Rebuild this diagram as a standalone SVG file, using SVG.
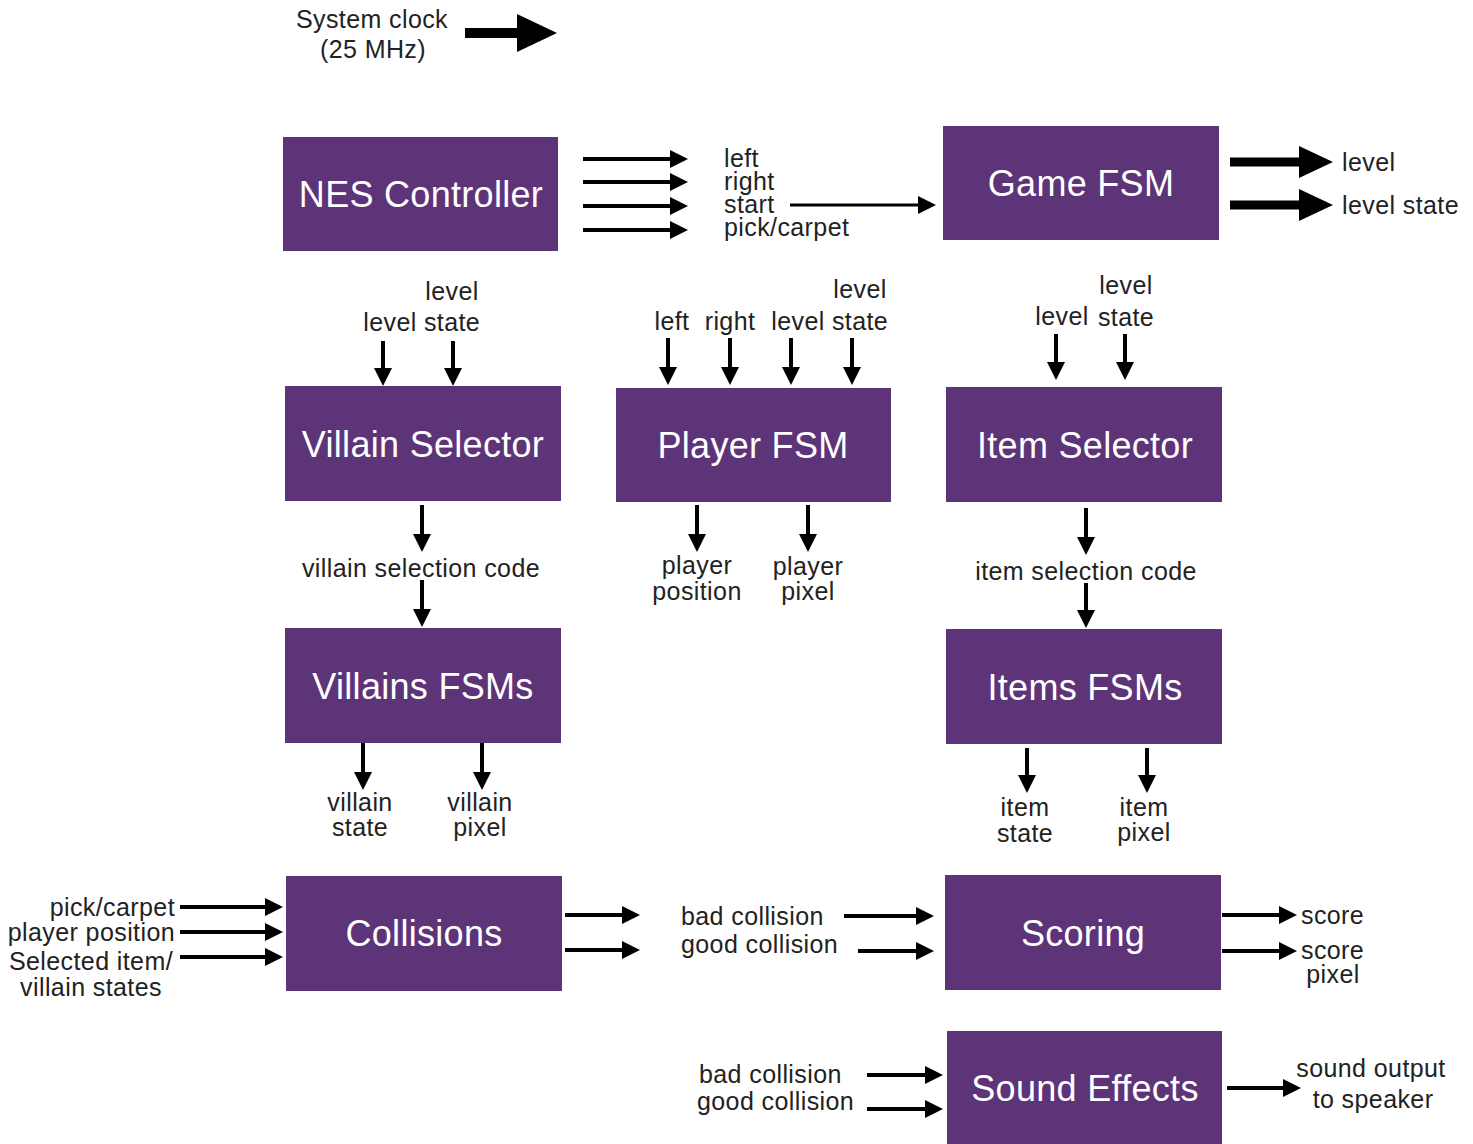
<svg xmlns="http://www.w3.org/2000/svg" width="1473" height="1144" viewBox="0 0 1473 1144">
  <style>
    .box { fill: #5E3479; }
    .title { font-family: "Liberation Sans", Arial, sans-serif; font-size: 36px; letter-spacing: 0.3px; fill: #ffffff; text-anchor: middle; }
    .lbl { font-family: "Liberation Sans", Arial, sans-serif; font-size: 25px; letter-spacing: 0.4px; fill: #222222; }
    .mid { text-anchor: middle; }
    .end { text-anchor: end; }
    .wire { stroke: #000000; stroke-width: 4; fill: none; marker-end: url(#head); }
    .wire-thin { stroke: #000000; stroke-width: 3; fill: none; marker-end: url(#head); }
    .bus { stroke: #000000; stroke-width: 9; fill: none; marker-end: url(#headL); }
    .bus-xl { stroke: #000000; stroke-width: 10; fill: none; marker-end: url(#headXL); }
  </style>
  <defs>
    <marker id="head" viewBox="0 0 18 18" markerWidth="18" markerHeight="18" refX="8" refY="9" orient="auto" markerUnits="userSpaceOnUse">
      <path d="M0,0 L18,9 L0,18 z" fill="#000000"/>
    </marker>
    <marker id="headL" viewBox="0 0 34 32" markerWidth="34" markerHeight="32" refX="6" refY="16" orient="auto" markerUnits="userSpaceOnUse">
      <path d="M0,0 L34,16 L0,32 z" fill="#000000"/>
    </marker>
    <marker id="headXL" viewBox="0 0 40 38" markerWidth="40" markerHeight="38" refX="6" refY="19" orient="auto" markerUnits="userSpaceOnUse">
      <path d="M0,0 L40,19 L0,38 z" fill="#000000"/>
    </marker>
  </defs>

  <rect width="1473" height="1144" fill="#ffffff"/>

  <!-- clock source -->
  <g id="clock">
    <text class="lbl mid" x="372" y="28">System clock</text>
    <text class="lbl mid" x="373" y="58">(25 MHz)</text>
  </g>

  <!-- processing blocks -->
  <g id="nes-controller">
    <rect class="box" x="283" y="137" width="275" height="114"/>
    <text class="title" x="421" y="207">NES Controller</text>
  </g>
  <g id="game-fsm">
    <rect class="box" x="943" y="126" width="276" height="114"/>
    <text class="title" x="1081" y="196">Game FSM</text>
  </g>
  <g id="villain-selector">
    <rect class="box" x="285" y="386" width="276" height="115"/>
    <text class="title" x="423" y="457">Villain Selector</text>
  </g>
  <g id="player-fsm">
    <rect class="box" x="616" y="388" width="275" height="114"/>
    <text class="title" x="753" y="458">Player FSM</text>
  </g>
  <g id="item-selector">
    <rect class="box" x="946" y="387" width="276" height="115"/>
    <text class="title" x="1085" y="458">Item Selector</text>
  </g>
  <g id="villains-fsms">
    <rect class="box" x="285" y="628" width="276" height="115"/>
    <text class="title" x="423" y="699">Villains FSMs</text>
  </g>
  <g id="items-fsms">
    <rect class="box" x="946" y="629" width="276" height="115"/>
    <text class="title" x="1085" y="700">Items FSMs</text>
  </g>
  <g id="collisions">
    <rect class="box" x="286" y="876" width="276" height="115"/>
    <text class="title" x="424" y="946">Collisions</text>
  </g>
  <g id="scoring">
    <rect class="box" x="945" y="875" width="276" height="115"/>
    <text class="title" x="1083" y="946">Scoring</text>
  </g>
  <g id="sound-effects">
    <rect class="box" x="947" y="1031" width="275" height="120"/>
    <text class="title" x="1085" y="1101">Sound Effects</text>
  </g>

  <!-- signal labels -->
  <g id="labels">
    <text class="lbl" x="724" y="167">left</text>
    <text class="lbl" x="724" y="190">right</text>
    <text class="lbl" x="724" y="213">start</text>
    <text class="lbl" x="724" y="236">pick/carpet</text>

    <text class="lbl" x="1342" y="171">level</text>
    <text class="lbl" x="1342" y="214">level state</text>

    <text class="lbl mid" x="390" y="331">level</text>
    <text class="lbl mid" x="452" y="300">level</text>
    <text class="lbl mid" x="452" y="331">state</text>

    <text class="lbl mid" x="672" y="330">left</text>
    <text class="lbl mid" x="730" y="330">right</text>
    <text class="lbl mid" x="798" y="330">level</text>
    <text class="lbl mid" x="860" y="298">level</text>
    <text class="lbl mid" x="860" y="330">state</text>

    <text class="lbl mid" x="1062" y="325">level</text>
    <text class="lbl mid" x="1126" y="294">level</text>
    <text class="lbl mid" x="1126" y="326">state</text>

    <text class="lbl mid" x="421" y="577">villain selection code</text>
    <text class="lbl mid" x="697" y="574">player</text>
    <text class="lbl mid" x="697" y="600">position</text>
    <text class="lbl mid" x="808" y="575">player</text>
    <text class="lbl mid" x="808" y="600">pixel</text>
    <text class="lbl mid" x="1086" y="580">item selection code</text>

    <text class="lbl mid" x="360" y="811">villain</text>
    <text class="lbl mid" x="360" y="836">state</text>
    <text class="lbl mid" x="480" y="811">villain</text>
    <text class="lbl mid" x="480" y="836">pixel</text>
    <text class="lbl mid" x="1025" y="816">item</text>
    <text class="lbl mid" x="1025" y="842">state</text>
    <text class="lbl mid" x="1144" y="816">item</text>
    <text class="lbl mid" x="1144" y="841">pixel</text>

    <text class="lbl end" x="175" y="916">pick/carpet</text>
    <text class="lbl end" x="175" y="941">player position</text>
    <text class="lbl mid" x="91" y="970">Selected item/</text>
    <text class="lbl mid" x="91" y="996">villain states</text>

    <text class="lbl" x="681" y="925">bad collision</text>
    <text class="lbl" x="681" y="953">good collision</text>

    <text class="lbl" x="1301" y="924">score</text>
    <text class="lbl" x="1301" y="959">score</text>
    <text class="lbl mid" x="1333" y="983">pixel</text>

    <text class="lbl" x="699" y="1083">bad collision</text>
    <text class="lbl" x="697" y="1110">good collision</text>
    <text class="lbl mid" x="1371" y="1077">sound output</text>
    <text class="lbl mid" x="1373" y="1108">to speaker</text>
  </g>

  <!-- connectors -->
  <g id="connectors">
    <line class="bus-xl" x1="465" y1="33" x2="523" y2="33"/>

    <line class="wire" x1="583" y1="159" x2="678" y2="159"/>
    <line class="wire" x1="583" y1="182" x2="678" y2="182"/>
    <line class="wire" x1="583" y1="206" x2="678" y2="206"/>
    <line class="wire" x1="583" y1="230" x2="678" y2="230"/>
    <line class="wire-thin" x1="790" y1="205" x2="926" y2="205"/>

    <line class="bus" x1="1230" y1="162" x2="1305" y2="162"/>
    <line class="bus" x1="1230" y1="205" x2="1305" y2="205"/>

    <line class="wire" x1="383" y1="341" x2="383" y2="376"/>
    <line class="wire" x1="453" y1="341" x2="453" y2="376"/>

    <line class="wire" x1="668" y1="338" x2="668" y2="375"/>
    <line class="wire" x1="730" y1="338" x2="730" y2="375"/>
    <line class="wire" x1="791" y1="338" x2="791" y2="375"/>
    <line class="wire" x1="852" y1="338" x2="852" y2="375"/>

    <line class="wire" x1="1056" y1="334" x2="1056" y2="370"/>
    <line class="wire" x1="1125" y1="334" x2="1125" y2="370"/>

    <line class="wire" x1="422" y1="505" x2="422" y2="542"/>
    <line class="wire" x1="422" y1="580" x2="422" y2="617"/>

    <line class="wire" x1="697" y1="505" x2="697" y2="542"/>
    <line class="wire" x1="808" y1="505" x2="808" y2="542"/>

    <line class="wire" x1="1086" y1="508" x2="1086" y2="545"/>
    <line class="wire" x1="1086" y1="583" x2="1086" y2="618"/>

    <line class="wire" x1="363" y1="743" x2="363" y2="780"/>
    <line class="wire" x1="482" y1="743" x2="482" y2="780"/>

    <line class="wire" x1="1027" y1="748" x2="1027" y2="783"/>
    <line class="wire" x1="1147" y1="748" x2="1147" y2="783"/>

    <line class="wire" x1="180" y1="907" x2="273" y2="907"/>
    <line class="wire" x1="180" y1="932" x2="273" y2="932"/>
    <line class="wire" x1="180" y1="957" x2="273" y2="957"/>

    <line class="wire" x1="565" y1="915" x2="630" y2="915"/>
    <line class="wire" x1="565" y1="950" x2="630" y2="950"/>

    <line class="wire" x1="844" y1="916" x2="924" y2="916"/>
    <line class="wire" x1="858" y1="951" x2="924" y2="951"/>

    <line class="wire" x1="1222" y1="915" x2="1287" y2="915"/>
    <line class="wire" x1="1222" y1="951" x2="1287" y2="951"/>

    <line class="wire" x1="867" y1="1075" x2="933" y2="1075"/>
    <line class="wire" x1="867" y1="1109" x2="933" y2="1109"/>

    <line class="wire" x1="1227" y1="1088" x2="1291" y2="1088"/>
  </g>
</svg>
